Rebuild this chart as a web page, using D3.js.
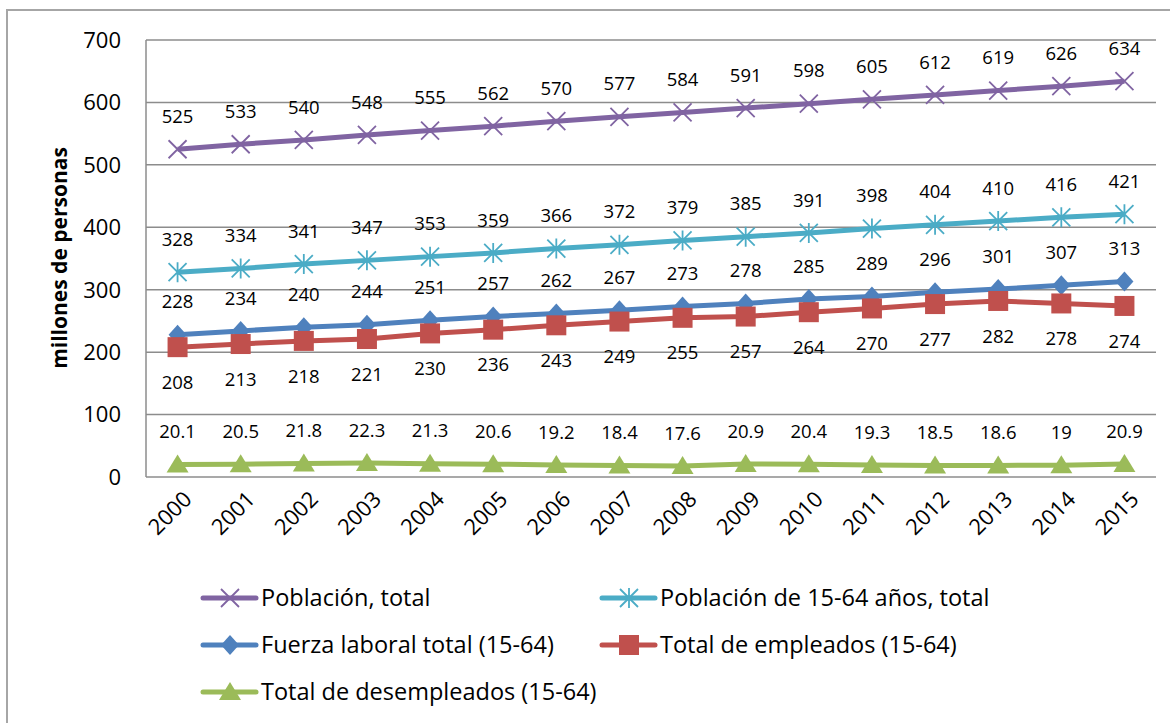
<!DOCTYPE html>
<meta charset="utf-8">
<style>
body { margin: 0; background: #fff; }
text { font-family: "Open Sans", sans-serif; fill: #000; }
.grid line { stroke: #8c8c8c; stroke-width: 1.5px; }
.lbl { font-size: 18.5px; text-anchor: middle; }
.tick-y { font-size: 22px; text-anchor: end; }
.tick-x { font-size: 22px; text-anchor: end; }
.leg { font-size: 23.5px; }
</style>
<svg width="1170" height="723"></svg>
<script src="https://d3js.org/d3.v7.min.js"></script>
<script>
const years = ['2000','2001','2002','2003','2004','2005','2006','2007','2008','2009','2010','2011','2012','2013','2014','2015'];
const yTicks = [0, 100, 200, 300, 400, 500, 600, 700];

const poblacion = [525,533,540,548,555,562,570,577,584,591,598,605,612,619,626,634];
const pob1564 = [328,334,341,347,353,359,366,372,379,385,391,398,404,410,416,421];
const fuerza = [228,234,240,244,251,257,262,267,273,278,285,289,296,301,307,313];
const empleados = [208,213,218,221,230,236,243,249,255,257,264,270,277,282,278,274];
const desempleados = [20.1,20.5,21.8,22.3,21.3,20.6,19.2,18.4,17.6,20.9,20.4,19.3,18.5,18.6,19,20.9];

const series = [
  { name: 'Población, total', values: poblacion, color: '#8064A2', marker: 'x', pos: 'above' },
  { name: 'Población de 15-64 años, total', values: pob1564, color: '#4BACC6', marker: 'star', pos: 'above' },
  { name: 'Fuerza laboral total (15-64)', values: fuerza, color: '#4F81BD', marker: 'diamond', pos: 'above' },
  { name: 'Total de empleados (15-64)', values: empleados, color: '#C0504D', marker: 'square', pos: 'below' },
  { name: 'Total de desempleados (15-64)', values: desempleados, color: '#9BBB59', marker: 'triangle', pos: 'above' }
];

const svg = d3.select('svg');

// outer frame
svg.append('rect')
  .attr('x', 7).attr('y', 10)
  .attr('width', 1175).attr('height', 730)
  .attr('fill', 'none').attr('stroke', '#a6a6a6').attr('stroke-width', 2);

const plotL = 146, plotR = 1156, plotT = 40, plotB = 477;

const x = d3.scalePoint().domain(years).range([plotL, plotR]).padding(0.5);
const y = d3.scaleLinear().domain([0, 700]).range([plotB, plotT]);

// gridlines
svg.append('g').attr('class', 'grid')
  .selectAll('line').data(yTicks).enter().append('line')
    .attr('x1', plotL).attr('x2', plotR)
    .attr('y1', d => y(d)).attr('y2', d => y(d));

svg.append('line')
  .attr('x1', plotL).attr('x2', plotL).attr('y1', plotT).attr('y2', plotB)
  .attr('stroke', '#8c8c8c').attr('stroke-width', 1.5);

// y tick labels
svg.selectAll('.tick-y').data(yTicks).enter().append('text')
  .attr('class', 'tick-y')
  .attr('x', 121).attr('y', d => y(d)).attr('dy', '0.36em')
  .text(d => d);

// x tick labels
svg.selectAll('.tick-x').data(years).enter().append('text')
  .attr('class', 'tick-x')
  .attr('transform', d => `translate(${x(d) + 10},${495}) rotate(-45)`)
  .attr('dy', '0.36em')
  .text(d => d);

// axis title
svg.append('text')
  .attr('transform', `translate(67,258) rotate(-90)`)
  .attr('text-anchor', 'middle')
  .style('font-size', '21px').style('font-weight', 'bold')
  .text('millones de personas');

function drawMarker(g, type, color) {
  if (type === 'x') {
    g.append('path').attr('d', 'M-9,-9L9,9M-9,9L9,-9')
      .attr('stroke', color).attr('stroke-width', 1.8).attr('fill', 'none');
  } else if (type === 'star') {
    g.append('path').attr('d', 'M-9,-9L9,9M-9,9L9,-9M0,-10L0,10')
      .attr('stroke', color).attr('stroke-width', 1.8).attr('fill', 'none');
  } else if (type === 'diamond') {
    g.append('path').attr('d', 'M0,-10L9,0L0,10L-9,0Z').attr('fill', color);
  } else if (type === 'square') {
    g.append('rect').attr('x', -10).attr('y', -10).attr('width', 20).attr('height', 20).attr('fill', color);
  } else if (type === 'triangle') {
    g.append('path').attr('d', 'M0,-10L11,8L-11,8Z').attr('fill', color);
  }
}

const line = d3.line().x((d, i) => x(years[i])).y(d => y(d));

series.forEach(s => {
  svg.append('path')
    .attr('d', line(s.values))
    .attr('fill', 'none')
    .attr('stroke', s.color)
    .attr('stroke-width', 5)
    .attr('stroke-linejoin', 'round');
});

series.forEach(s => {
  s.values.forEach((v, i) => {
    const g = svg.append('g').attr('transform', `translate(${x(years[i])},${y(v)})`);
    drawMarker(g, s.marker, s.color);
  });
});

series.forEach(s => {
  svg.append('g').selectAll('text').data(s.values).enter().append('text')
    .attr('class', 'lbl')
    .attr('x', (d, i) => x(years[i]))
    .attr('y', d => y(d) + (s.pos === 'above' ? -33 : 35))
    .attr('dy', '0.36em')
    .text(d => d);
});

// legend
const legPos = [
  { lx: 203, ly: 598 }, { lx: 602, ly: 598 },
  { lx: 203, ly: 645 }, { lx: 602, ly: 645 },
  { lx: 203, ly: 692 }
];

series.forEach((s, i) => {
  const p = legPos[i];
  const g = svg.append('g').attr('transform', `translate(${p.lx},${p.ly})`);
  g.append('line').attr('x1', 0).attr('x2', 53).attr('y1', 0).attr('y2', 0)
    .attr('stroke', s.color).attr('stroke-width', 5).attr('stroke-linecap', 'round');
  const m = g.append('g').attr('transform', 'translate(27,0)');
  drawMarker(m, s.marker, s.color);
  g.append('text').attr('class', 'leg')
    .attr('x', 58).attr('y', 0).attr('dy', '0.36em')
    .text(s.name);
});
</script>
